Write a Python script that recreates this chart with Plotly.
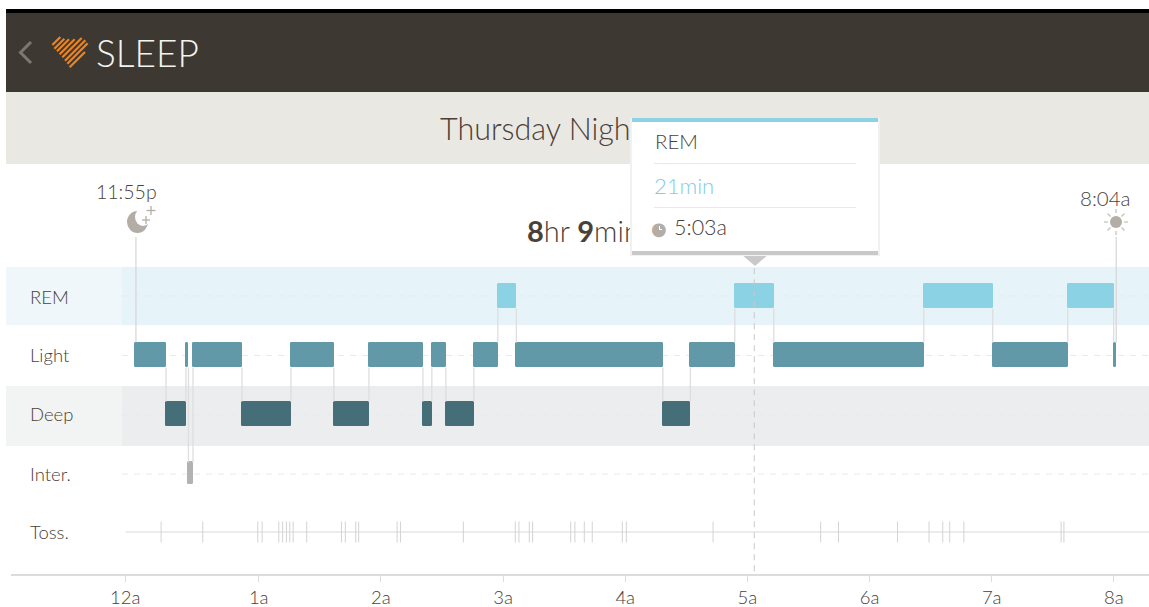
import plotly.graph_objects as go

# ---------- data (hours after midnight) ----------
row_labels = ["REM", "Light", "Deep", "Inter.", "Toss."]
row_index = [0, 1, 2, 3, 4]
segment_stages = ["Light", "Deep", "Light", "Inter.", "Light", "Deep", "Light", "Deep", "Light", "Deep",
                  "Light", "Deep", "Light", "REM", "Light", "Deep", "Light", "REM", "Light", "REM",
                  "Light", "REM", "Light"]
segment_bounds = [-0.009, 0.241, 0.404, 0.425, 0.462, 0.863, 1.264, 1.615, 1.902, 2.344, 2.417, 2.532,
                  2.761, 2.957, 3.109, 4.308, 4.533, 4.897, 5.216, 6.444, 7.008, 7.622, 7.998, 8.019]
toss_times = [0.201, 0.542, 0.992, 1.028, 1.164, 1.196, 1.227, 1.254, 1.282, 1.393, 1.677, 1.709, 1.794,
              1.818, 2.133, 2.160, 2.675, 3.100, 3.130, 3.215, 3.242, 3.554, 3.588, 3.665, 3.730, 3.976,
              4.009, 4.719, 5.600, 5.746, 6.229, 6.487, 6.599, 6.656, 6.772, 7.568, 7.591]
tick_vals = [-0.093, 1, 2, 3, 4, 5, 6, 7, 8]
tick_text = ["12a", "1a", "2a", "3a", "4a", "5a", "6a", "7a", "8a"]
sleep_start = -0.005
sleep_end = 8.019
cursor_time = 5.056

# ---------- styling ----------
W, H = 1149, 607
PL, PB = 11, 33
PW, PH = W - PL, H - PB
FONT = "Lato"
TXT = "#4a4038"
GREY = "#b3ada5"
colors = {"REM": "#8bd2e4", "Light": "#6299a9", "Deep": "#466e79", "Inter.": "#b2b2b2"}
heights = {"REM": 0.42, "Light": 0.42, "Deep": 0.42, "Inter.": 0.36}
row_of = dict(zip(row_labels, row_index))


def px(x):
    return (x - PL) / PW


def py(y):
    return 1 - y / PH


fig = go.Figure()

# connectors between consecutive stages, running from bar edge to bar edge
cx, cy = [], []
for i in range(len(segment_stages) - 1):
    t = segment_bounds[i + 1]
    a, b = segment_stages[i], segment_stages[i + 1]
    ra, rb = row_of[a], row_of[b]
    sign = 1 if rb > ra else -1
    cx += [t, t, None]
    cy += [ra + sign * heights[a] / 2, rb - sign * heights[b] / 2, None]
fig.add_trace(go.Scatter(x=cx, y=cy, mode="lines", line=dict(color="#dedede", width=1.3),
                         hoverinfo="skip", showlegend=False))

# sleep start / end stems
fig.add_trace(go.Scatter(x=[sleep_start, sleep_start, None, sleep_end, sleep_end],
                         y=[-1.0, 1 - 0.215, None, -1.0, 1 - 0.215], mode="lines",
                         line=dict(color="#d5d5d5", width=1.2), hoverinfo="skip", showlegend=False))

# stage bars
for stage in ["REM", "Light", "Deep", "Inter."]:
    starts = [segment_bounds[i] for i, s in enumerate(segment_stages) if s == stage]
    ends = [segment_bounds[i + 1] for i, s in enumerate(segment_stages) if s == stage]
    fig.add_trace(go.Bar(
        y=[row_of[stage]] * len(starts), base=starts, x=[e - s for s, e in zip(starts, ends)],
        orientation="h", width=heights[stage],
        marker=dict(color=colors[stage], line=dict(width=1, color=colors[stage]), cornerradius=1),
        showlegend=False, name=stage))

# toss line and ticks
fig.add_trace(go.Scatter(x=[-0.09, 8.2913], y=[4, 4], mode="lines", line=dict(color="#dadada", width=1.2),
                         hoverinfo="skip", showlegend=False))
fig.add_trace(go.Scatter(x=toss_times, y=[4] * len(toss_times), mode="markers",
                         marker=dict(symbol="line-ns", size=15, line=dict(color="#d3d3d3", width=1)),
                         showlegend=False, name="Toss."))

# cursor
fig.add_trace(go.Scatter(x=[cursor_time, cursor_time], y=[-0.47, 4.67], mode="lines",
                         line=dict(color="#c8c8c8", width=1, dash="6px,5px"), hoverinfo="skip", showlegend=False))

shapes = []


def rect(x0, y0, x1, y1, color, layer="below"):
    shapes.append(dict(type="rect", xref="paper", yref="paper", x0=px(x0), x1=px(x1), y0=py(y0), y1=py(y1),
                       fillcolor=color, line=dict(width=0), layer=layer))


def seg(x0, y0, x1, y1, color, width):
    shapes.append(dict(type="line", xref="paper", yref="paper", x0=px(x0), x1=px(x1), y0=py(y0), y1=py(y1),
                       line=dict(color=color, width=width), layer="above"))


rect(0, 0, 6, 607, "#ffffff")
rect(6, 9, 1149, 13, "#000000")
rect(6, 13, 1149, 92, "#3e3832")
rect(6, 92, 1149, 164, "#eae8e3")
rect(6, 267, 122, 325, "#eff7fa")
rect(122, 267, 1149, 325, "#e6f3f8")
rect(6, 386, 122, 446, "#f2f4f4")
rect(122, 386, 1149, 446, "#ebedef")
for ry in [296, 355.5, 415, 474]:
    shapes.append(dict(type="line", xref="paper", yref="paper", x0=px(122), x1=1, y0=py(ry), y1=py(ry),
                       line=dict(color="#e9e9e9", width=1, dash="6px,6px"), layer="below"))

# back chevron
shapes.append(dict(type="path", xref="paper", yref="paper", layer="above",
                   path=f"M {px(31)} {py(42)} L {px(20.5)} {py(52.5)} L {px(31)} {py(63)}",
                   line=dict(color="#7d786c", width=3)))

# heart logo stripes
stripes = [(127, 60, 151, 36), (133, 71, 163, 41), (141, 79, 177, 43), (149, 88, 194, 43),
           (157, 97, 215, 39), (165, 107, 226, 46), (172, 116, 233, 55), (179, 127, 225, 81)]
for a, b, c, d in stripes:
    seg(a / 3 + 10, b / 3 + 25, c / 3 + 10, d / 3 + 25, "#ee8421", 2.2)

# moon
shapes.append(dict(type="circle", xref="paper", yref="paper", layer="above", x0=px(127), x1=px(148), y0=py(233), y1=py(211),
                   fillcolor=GREY, line=dict(width=0)))
shapes.append(dict(type="circle", xref="paper", yref="paper", layer="above", x0=px(135), x1=px(151), y0=py(226), y1=py(208),
                   fillcolor="#ffffff", line=dict(width=0)))
seg(151, 206, 151, 215, GREY, 1.3)
seg(146.5, 210.5, 155.5, 210.5, GREY, 1.3)
seg(146, 216, 146, 224, GREY, 1.3)
seg(142, 220, 150, 220, GREY, 1.3)

# sun
shapes.append(dict(type="circle", xref="paper", yref="paper", layer="above", x0=px(1110), x1=px(1122), y0=py(228), y1=py(216),
                   fillcolor=GREY, line=dict(width=0)))
for a, b, c, d in [(1116, 209, 1116, 213), (1116, 231, 1116, 235), (1104, 222, 1108, 222), (1124, 222, 1128, 222),
                   (1107.5, 213.5, 1110.5, 216.5), (1121.5, 227.5, 1124.5, 230.5),
                   (1124.5, 213.5, 1121.5, 216.5), (1110.5, 227.5, 1107.5, 230.5)]:
    seg(a, b, c, d, "#c4bfb8", 1.2)

# tooltip pointer
shapes.append(dict(type="path", xref="paper", yref="paper", layer="above",
                   path=f"M {px(741)} {py(254)} L {px(769)} {py(254)} L {px(755)} {py(266)} Z",
                   fillcolor="#c9c9c9", line=dict(width=0)))

ann = []


def text(x, y, s, size, color=TXT, anchor="left", family=FONT, weight=300):
    ann.append(dict(xref="paper", yref="paper", x=px(x - (2 if anchor == "left" else 0)), y=py(y), text=s, showarrow=False,
                    xanchor=anchor, yanchor="middle", font=dict(family=family, size=size, color=color, weight=weight)))


def box(x0, y0, x1, y1, color):
    ann.append(dict(xref="paper", yref="paper", x=px(x0), y=py(y0), text=" ", showarrow=False, xanchor="left",
                    yanchor="top", width=x1 - x0, height=y1 - y0, bgcolor=color, borderpad=0, borderwidth=0,
                    font=dict(size=1, color=color)))


text(96, 52, "SLEEP", 37, "#f4f3ef")
text(440, 128, "Thursday Night", 30.5)
text(126, 191, "11:55p", 19.5, anchor="center")
text(1105, 198, "8:04a", 20.5, anchor="center")
text(527, 230, "<b>8</b>hr <b>9</b>min", 29)
for label, ry in zip(row_labels, [297, 355, 414, 474, 532]):
    text(30, ry, label, 18.5)

# tooltip, painted over the title and the duration text
box(630, 118, 880, 256, "#f1f1f1")
box(632, 118, 878, 252, "#ffffff")
box(632, 118, 878, 122, "#8bd2e4")
box(632, 251, 878, 255, "#c9c9c9")
box(654, 163, 856, 164, "#e8e8e8")
box(654, 207, 856, 208, "#e8e8e8")
text(655, 141, "REM", 20.5)
text(654, 185, "21min", 22, "#7fcde1")
text(659, 228.5, "●", 18, GREY, anchor="center", family="DejaVu Sans", weight=400)
box(659, 226, 660, 230, "#ffffff")
box(659, 229, 662, 230, "#ffffff")
text(674, 227, "5:03a", 21.5)

fig.update_layout(
    width=W, height=H, margin=dict(l=PL, r=0, t=0, b=PB, pad=0), autosize=False,
    paper_bgcolor="#ffffff", plot_bgcolor="rgba(0,0,0,0)", barmode="overlay",
    font=dict(family=FONT, color=TXT), shapes=shapes, annotations=ann, bargap=0, showlegend=False,
    xaxis=dict(range=[-1.0277, 8.2873], tickmode="array", tickvals=tick_vals, ticktext=tick_text,
               showgrid=False, zeroline=False, showline=True, linecolor="#dcdcdc", linewidth=1.5,
               ticks="outside", ticklen=6, tickcolor="#dcdcdc", tickwidth=1,
               tickfont=dict(family=FONT, size=18.5, color=TXT, weight=300), fixedrange=True),
    yaxis=dict(range=[4.7119, -5.0169], visible=False, fixedrange=True),
)

fig.write_html("out.html", config=dict(displayModeBar=False), post_script="document.body.style.margin='0';")
